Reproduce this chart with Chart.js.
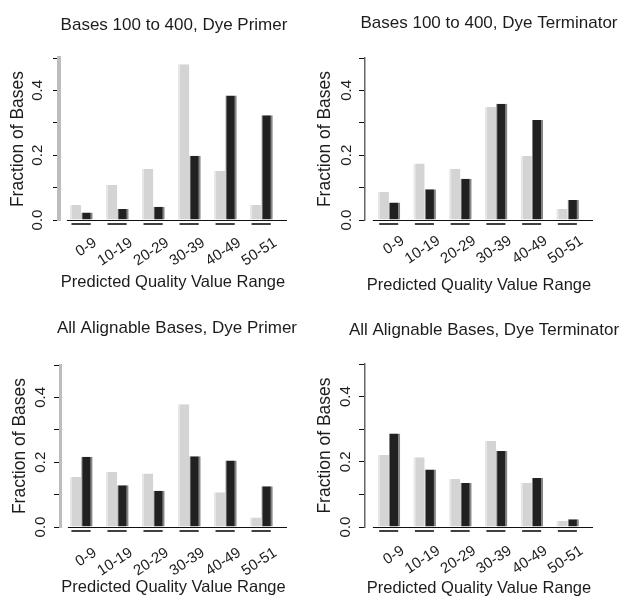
<!DOCTYPE html>
<html>
<head>
<meta charset="utf-8">
<script src="https://cdn.jsdelivr.net/npm/chart.js@4.4.1/dist/chart.umd.min.js"></script>
<style>
body { margin: 0; background: #fff; width: 621px; height: 599px; position: relative; overflow: hidden; }
.panel { position: absolute; width: 310px; height: 300px; }
</style>
</head>
<body>
<div class="panel" style="left:0;top:0"><canvas id="c1" width="310" height="300"></canvas></div>
<div class="panel" style="left:310px;top:0"><canvas id="c2" width="310" height="300"></canvas></div>
<div class="panel" style="left:0;top:300px"><canvas id="c3" width="310" height="300"></canvas></div>
<div class="panel" style="left:310px;top:300px"><canvas id="c4" width="310" height="300"></canvas></div>
<script>
// categories and tick labels
var ranges = ['0-9', '10-19', '20-29', '30-39', '40-49', '50-51'];
var yTicks = [0, 0.1, 0.2, 0.3, 0.4, 0.5];
var yLabelTicks = [0, 0.2, 0.4];
var titles = ['Bases 100 to 400, Dye Primer', 'Bases 100 to 400, Dye Terminator',
              'All Alignable Bases, Dye Primer', 'All Alignable Bases, Dye Terminator'];

// fraction of bases, light and dark bars, per panel
var primer100Light = [0.046, 0.108, 0.158, 0.481, 0.152, 0.046];
var primer100Dark  = [0.023, 0.034, 0.041, 0.198, 0.384, 0.323];
var term100Light   = [0.087, 0.174, 0.158, 0.349, 0.198, 0.034];
var term100Dark    = [0.054, 0.095, 0.127, 0.359, 0.309, 0.062];
var primerAllLight = [0.154, 0.170, 0.165, 0.379, 0.107, 0.029];
var primerAllDark  = [0.217, 0.129, 0.112, 0.218, 0.205, 0.126];
var termAllLight   = [0.221, 0.214, 0.147, 0.264, 0.135, 0.019];
var termAllDark    = [0.287, 0.176, 0.135, 0.233, 0.150, 0.024];

var FONT = "'Liberation Sans', Arial, Helvetica, sans-serif";
var TXT = '#1c1c1c';

// draws the zero line and the short lines under each pair of bars
var groupLines = {
    id: 'groupLines',
    afterDatasetsDraw: function (chart) {
        var c = chart.ctx;
        var xs = chart.scales.x;
        var y0 = chart.scales.y.getPixelForValue(0);
        var m0 = chart.getDatasetMeta(0), m1 = chart.getDatasetMeta(1);
        c.save();
        c.strokeStyle = '#111';
        c.lineWidth = 1;
        c.beginPath();
        c.moveTo(xs.getPixelForValue(xs.min + 0.22), y0 + 0.5);
        c.lineTo(chart.chartArea.right, y0 + 0.5);
        c.stroke();
        c.lineWidth = 1.6;
        for (var i = 0; i < m0.data.length; i++) {
            var a = m0.data[i], b = m1.data[i];
            c.beginPath();
            c.moveTo(a.x - a.width / 2 + 1.5, y0 + 4);
            c.lineTo(b.x + b.width / 2 - 2, y0 + 4);
            c.stroke();
        }
        c.restore();
    }
};

var panelTitle = {
    id: 'panelTitle',
    afterDraw: function (chart, args, opts) {
        var c = chart.ctx;
        c.save();
        c.font = '17px ' + FONT;
        c.fillStyle = TXT;
        c.textAlign = 'center';
        c.textBaseline = 'middle';
        c.fillText(opts.text, opts.x, opts.y);
        c.restore();
    }
};

var panels = [
    {id: 'c1', title: titles[0], light: primer100Light, dark: primer100Dark, L: 59, R: 287, T: 58, B: 220,
     xmin: -0.62, xmax: 5.71, tx: 174, ty: 25, yTitleX: 18.5, labX: 37.5, labPad: 14, xTitleY: 282,
     axisColor: '#bdbdbd', axisW: 4},
    {id: 'c2', title: titles[1], light: term100Light, dark: term100Dark, L: 55, R: 283, T: 58, B: 220,
     xmin: -0.67, xmax: 5.71, tx: 179, ty: 23, yTitleX: 15, labX: 36.5, labPad: 12, xTitleY: 285,
     axisColor: '#666', axisW: 1.5},
    {id: 'c3', title: titles[2], light: primerAllLight, dark: primerAllDark, L: 60, R: 287, T: 65, B: 227,
     xmin: -0.59, xmax: 5.71, tx: 177, ty: 28, yTitleX: 20, labX: 40.5, labPad: 17, xTitleY: 287,
     axisColor: '#bdbdbd', axisW: 3},
    {id: 'c4', title: titles[3], light: termAllLight, dark: termAllDark, L: 55, R: 283, T: 64, B: 227,
     xmin: -0.67, xmax: 5.71, tx: 174, ty: 30, yTitleX: 15, labX: 36, labPad: 15, xTitleY: 288,
     axisColor: '#666', axisW: 1.5}
];

function toPoints(arr) {
    return arr.map(function (v, i) { return {x: i, y: v}; });
}

function makeChart(p) {
    var ctx = document.getElementById(p.id);
    return new Chart(ctx, {
        type: 'bar',
        data: {
            datasets: [{
                label: 'light',
                data: toPoints(p.light),
                backgroundColor: '#d4d4d4',
                borderColor: '#e6e6e6',
                borderWidth: {left: 2, right: 0, top: 0, bottom: 0},
                borderSkipped: 'start'
            }, {
                label: 'dark',
                data: toPoints(p.dark),
                backgroundColor: '#212121',
                borderColor: '#858585',
                borderWidth: {left: 1, right: 2, top: 0, bottom: 0},
                borderSkipped: 'start'
            }]
        },
        options: {
            responsive: false,
            animation: false,
            layout: {padding: {left: 0, right: 310 - p.R, top: p.T, bottom: 0}},
            datasets: {bar: {categoryPercentage: 0.63, barPercentage: 1}},
            plugins: {
                legend: {display: false},
                tooltip: {enabled: false},
                panelTitle: {text: p.title, x: p.tx, y: p.ty}
            },
            scales: {
                x: {
                    type: 'linear',
                    min: p.xmin,
                    max: p.xmax,
                    offset: false,
                    grid: {display: false, drawTicks: false},
                    border: {display: false},
                    afterBuildTicks: function (s) {
                        s.ticks = ranges.map(function (r, i) { return {value: i}; });
                    },
                    afterFit: function (s) { s.height = 300 - p.B; },
                    ticks: {
                        autoSkip: false,
                        minRotation: 33,
                        maxRotation: 33,
                        labelOffset: 14,
                        padding: p.labPad,
                        color: TXT,
                        font: {family: FONT, size: 15},
                        callback: function (v) { return ranges[v]; }
                    },
                    title: {
                        display: true,
                        text: 'Predicted Quality Value Range',
                        color: TXT,
                        font: {family: FONT, size: 16.5},
                        padding: {top: 0, bottom: 300 - p.xTitleY - 9.9}
                    }
                },
                y: {
                    min: 0,
                    max: 0.5,
                    afterBuildTicks: function (s) {
                        s.ticks = yTicks.map(function (v) { return {value: v}; });
                    },
                    afterFit: function (s) { s.width = p.L; },
                    grid: {drawOnChartArea: false, drawTicks: true, tickLength: 6, tickColor: '#111', tickWidth: 1},
                    border: {display: true, color: p.axisColor, width: p.axisW},
                    ticks: {
                        minRotation: 90,
                        maxRotation: 90,
                        crossAlign: 'center',
                        padding: p.L - 6 - 10.4 - p.labX,
                        color: TXT,
                        font: {family: FONT, size: 15},
                        callback: function (v) { return yLabelTicks.indexOf(v) >= 0 ? v.toFixed(1) : ''; }
                    },
                    title: {
                        display: true,
                        text: 'Fraction of Bases',
                        color: TXT,
                        font: {family: FONT, size: 17.5},
                        padding: {top: p.yTitleX - 10.5, bottom: 0}
                    }
                }
            }
        },
        plugins: [groupLines, panelTitle]
    });
}

panels.forEach(makeChart);
</script>
</body>
</html>
